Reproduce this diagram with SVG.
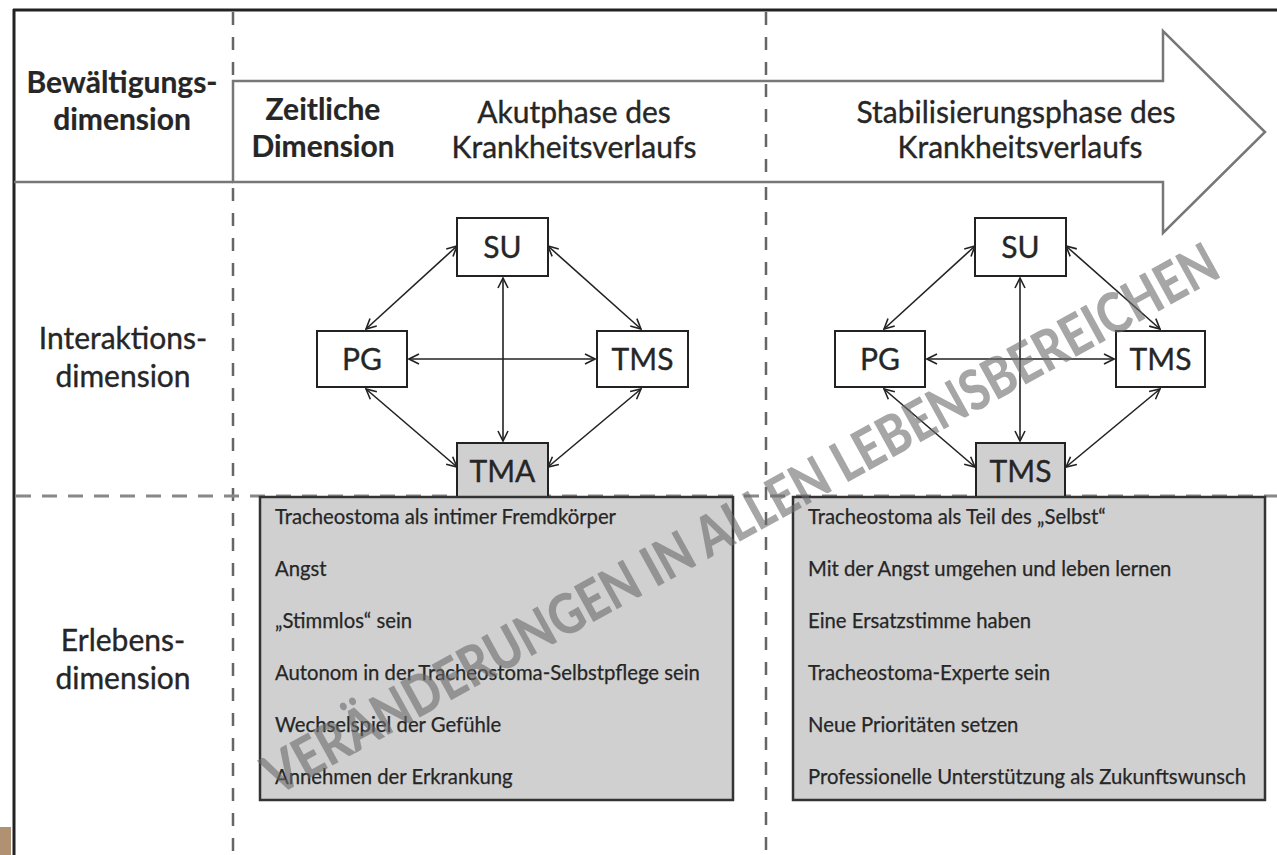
<svg xmlns="http://www.w3.org/2000/svg" width="1277" height="855" viewBox="0 0 1277 855">
<style>
  .t { font-family: Lato, "Open Sans", "Liberation Sans", sans-serif; fill: #262626; stroke: #262626; stroke-width: 0.35; }
  .hdr { font-size: 30px; text-anchor: middle; }
  .bold { font-weight: 700; stroke-width: 0.2; }
  .lbl { font-size: 30px; text-anchor: middle; }
  .node rect { fill: #ffffff; stroke: #222; stroke-width: 2; }
  .node.g rect { fill: #d0d0d0; }
  .node text { font-size: 30px; text-anchor: middle; }
  .item { font-size: 20.3px; stroke-width: 0.25; }
  .dashv { stroke: #666; stroke-width: 2.5; stroke-dasharray: 13 12; fill: none; }
  .dashh { stroke: #888; stroke-width: 3; stroke-dasharray: 15 11; fill: none; }
  .conn line { stroke: #222; stroke-width: 1.6; marker-start: url(#ah); marker-end: url(#ah); }
  .box { fill: #d0d0d0; stroke: #333; stroke-width: 2.5; }
</style>
<defs>
  <marker id="ah" viewBox="0 0 12 12" refX="11" refY="6" markerWidth="12" markerHeight="12" markerUnits="userSpaceOnUse" orient="auto-start-reverse">
    <path d="M1,1 L11,6 L1,11" fill="none" stroke="#222" stroke-width="1.6"/>
  </marker>
</defs>
<rect x="0" y="0" width="1277" height="855" fill="#ffffff"/>

<!-- frame -->
<g id="frame">
  <line x1="14" y1="9" x2="14" y2="855" stroke="#222" stroke-width="3"/>
  <line x1="13" y1="10" x2="1277" y2="10" stroke="#222" stroke-width="3"/>
  <line x1="14" y1="182" x2="233" y2="182" stroke="#777" stroke-width="2.5"/>
  <line x1="233" y1="12" x2="233" y2="81" class="dashv"/>
  <line x1="233" y1="188" x2="233" y2="855" class="dashv"/>
  <line x1="766" y1="12" x2="766" y2="855" class="dashv"/>
  <line x1="16" y1="496" x2="1277" y2="496" class="dashh"/>
  <rect x="0" y="827" width="11" height="28" fill="#b09272"/>
</g>

<!-- time arrow -->
<g id="time-arrow">
  <polygon points="233,81 1163,81 1163,31 1265,132 1163,233 1163,182 233,182" fill="#ffffff" stroke="#777" stroke-width="2.5" stroke-linejoin="miter"/>
  <line x1="766" y1="84" x2="766" y2="180" class="dashv"/>
</g>

<g id="header-labels">
  <text class="t hdr bold" x="122" y="93">Bewältigungs-</text>
  <text class="t hdr bold" x="122" y="130">dimension</text>
  <text class="t hdr bold" x="323" y="120">Zeitliche</text>
  <text class="t hdr bold" x="323" y="157">Dimension</text>
  <text class="t hdr" x="574" y="123">Akutphase des</text>
  <text class="t hdr" x="1016" y="123">Stabilisierungsphase des</text>
  <text class="t hdr" x="574" y="158">Krankheitsverlaufs</text>
  <text class="t hdr" x="1020" y="158">Krankheitsverlaufs</text>
</g>

<g id="row-labels">
  <text class="t lbl" x="123" y="349">Interaktions-</text>
  <text class="t lbl" x="123" y="387">dimension</text>
  <text class="t lbl" x="123" y="651">Erlebens-</text>
  <text class="t lbl" x="123" y="689">dimension</text>
</g>

<!-- connectors -->
<g id="connectors" class="conn">
  <line x1="457" y1="246" x2="366" y2="329"/>
  <line x1="548" y1="246" x2="641" y2="329"/>
  <line x1="366" y1="389" x2="457" y2="467"/>
  <line x1="641" y1="389" x2="548" y2="467"/>
  <line x1="503" y1="278" x2="503" y2="441"/>
  <line x1="409" y1="359" x2="595" y2="359"/>

  <line x1="975" y1="246" x2="884" y2="329"/>
  <line x1="1066" y1="246" x2="1160" y2="329"/>
  <line x1="884" y1="389" x2="975" y2="467"/>
  <line x1="1160" y1="389" x2="1066" y2="467"/>
  <line x1="1020" y1="278" x2="1020" y2="441"/>
  <line x1="927" y1="359" x2="1114" y2="359"/>
</g>

<!-- left diagram nodes -->
<g id="node-su-1" class="node"><rect x="457" y="218" width="91" height="58"/><text class="t" x="502.5" y="258">SU</text></g>
<g id="node-pg-1" class="node"><rect x="317" y="331" width="90" height="56"/><text class="t" x="362" y="370">PG</text></g>
<g id="node-tms-1" class="node"><rect x="597" y="331" width="91" height="56"/><text class="t" x="642.5" y="370">TMS</text></g>
<g id="node-tma-1" class="node g"><rect x="457" y="443" width="91" height="54"/><text class="t" x="502.5" y="482">TMA</text></g>

<!-- right diagram nodes -->
<g id="node-su-2" class="node"><rect x="975" y="218" width="91" height="58"/><text class="t" x="1020.5" y="258">SU</text></g>
<g id="node-pg-2" class="node"><rect x="835" y="331" width="90" height="56"/><text class="t" x="880" y="370">PG</text></g>
<g id="node-tms-2" class="node"><rect x="1116" y="331" width="89" height="56"/><text class="t" x="1160.5" y="370">TMS</text></g>
<g id="node-tms-3" class="node g"><rect x="976" y="443" width="89" height="54"/><text class="t" x="1020.5" y="482">TMS</text></g>

<!-- experience boxes -->
<g id="box-akut">
  <rect class="box" x="260" y="497" width="473" height="303"/>
  <text class="t item" x="275" y="524">Tracheostoma als intimer Fremdkörper</text>
  <text class="t item" x="275" y="576">Angst</text>
  <text class="t item" x="275" y="628">„Stimmlos“ sein</text>
  <text class="t item" x="275" y="680">Autonom in der Tracheostoma-Selbstpflege sein</text>
  <text class="t item" x="275" y="732">Wechselspiel der Gefühle</text>
  <text class="t item" x="275" y="784">Annehmen der Erkrankung</text>
</g>
<g id="box-stab">
  <rect class="box" x="793" y="497" width="472" height="303"/>
  <text class="t item" x="808" y="524">Tracheostoma als Teil des „Selbst“</text>
  <text class="t item" x="808" y="576">Mit der Angst umgehen und leben lernen</text>
  <text class="t item" x="808" y="628">Eine Ersatzstimme haben</text>
  <text class="t item" x="808" y="680">Tracheostoma-Experte sein</text>
  <text class="t item" x="808" y="732">Neue Prioritäten setzen</text>
  <text class="t item" x="808" y="784">Professionelle Unterstützung als Zukunftswunsch</text>
</g>

<!-- watermark -->
<g id="watermark">
  <text x="0" y="0" transform="translate(750,536) rotate(-28.8)" text-anchor="middle" textLength="1080" lengthAdjust="spacingAndGlyphs" font-family="Lato, 'Liberation Sans', sans-serif" font-weight="900" font-size="56" fill="#6a6a6a" fill-opacity="0.6">VERÄNDERUNGEN IN ALLEN LEBENSBEREICHEN</text>
</g>
</svg>
